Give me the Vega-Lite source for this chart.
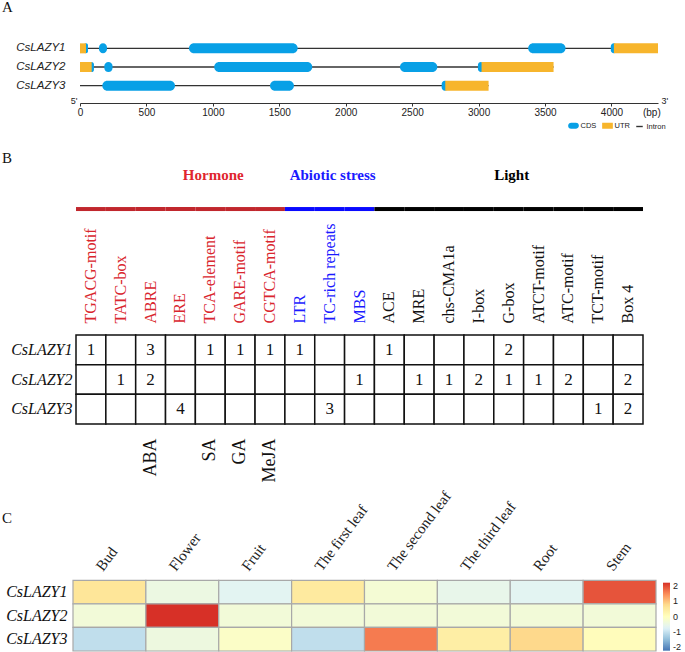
{
  "$schema": "https://vega.github.io/schema/vega-lite/v6.json",
  "background": "white",
  "padding": {"left": 2, "top": 0, "right": 0, "bottom": 0},
  "bounds": "flush",
  "spacing": 68,
  "config": {
    "view": {"stroke": null},
    "axis": {"grid": false},
    "title": {"font": "Liberation Serif", "fontSize": 15, "fontWeight": "normal", "anchor": "start", "frame": "group", "dx": -71, "color": "#111111", "baseline": "alphabetic"}
  },
  "resolve": {"scale": {"x": "independent", "y": "independent", "color": "independent", "fill": "independent"}},
  "datasets": {
    "introns": [
      {"gene": "CsLAZY1", "part": "Intron", "start": 0, "end": 4350},
      {"gene": "CsLAZY2", "part": "Intron", "start": 0, "end": 3564},
      {"gene": "CsLAZY3", "part": "Intron", "start": 0, "end": 3075}
    ],
    "parts": [
      {"gene": "CsLAZY1", "part": "CDS", "start": 30, "end": 60},
      {"gene": "CsLAZY1", "part": "CDS", "start": 143, "end": 203},
      {"gene": "CsLAZY1", "part": "CDS", "start": 820, "end": 1638},
      {"gene": "CsLAZY1", "part": "CDS", "start": 3373, "end": 3654},
      {"gene": "CsLAZY1", "part": "CDS", "start": 3995, "end": 4040},
      {"gene": "CsLAZY1", "part": "UTR", "start": 0, "end": 45},
      {"gene": "CsLAZY1", "part": "UTR", "start": 4018, "end": 4350},
      {"gene": "CsLAZY2", "part": "CDS", "start": 70, "end": 105},
      {"gene": "CsLAZY2", "part": "CDS", "start": 183, "end": 245},
      {"gene": "CsLAZY2", "part": "CDS", "start": 1010, "end": 1748},
      {"gene": "CsLAZY2", "part": "CDS", "start": 2408, "end": 2689},
      {"gene": "CsLAZY2", "part": "CDS", "start": 2995, "end": 3040},
      {"gene": "CsLAZY2", "part": "UTR", "start": 0, "end": 88},
      {"gene": "CsLAZY2", "part": "UTR", "start": 3022, "end": 3564},
      {"gene": "CsLAZY3", "part": "CDS", "start": 168, "end": 715},
      {"gene": "CsLAZY3", "part": "CDS", "start": 1430, "end": 1610},
      {"gene": "CsLAZY3", "part": "CDS", "start": 2722, "end": 2770},
      {"gene": "CsLAZY3", "part": "UTR", "start": 2749, "end": 3075}
    ],
    "motifs": [
      {"motif": "TGACG-motif", "category": "Hormone"},
      {"motif": "TATC-box", "category": "Hormone"},
      {"motif": "ABRE", "category": "Hormone"},
      {"motif": "ERE", "category": "Hormone"},
      {"motif": "TCA-element", "category": "Hormone"},
      {"motif": "GARE-motif", "category": "Hormone"},
      {"motif": "CGTCA-motif", "category": "Hormone"},
      {"motif": "LTR", "category": "Abiotic stress"},
      {"motif": "TC-rich repeats", "category": "Abiotic stress"},
      {"motif": "MBS", "category": "Abiotic stress"},
      {"motif": "ACE", "category": "Light"},
      {"motif": "MRE", "category": "Light"},
      {"motif": "chs-CMA1a", "category": "Light"},
      {"motif": "I-box", "category": "Light"},
      {"motif": "G-box", "category": "Light"},
      {"motif": "ATCT-motif", "category": "Light"},
      {"motif": "ATC-motif", "category": "Light"},
      {"motif": "TCT-motif", "category": "Light"},
      {"motif": "Box 4", "category": "Light"}
    ],
    "groups": [
      {"label": "Hormone", "anchor": "TCA-element"},
      {"label": "Abiotic stress", "anchor": "TC-rich repeats"},
      {"label": "Light", "anchor": "G-box"}
    ],
    "cells": [
      {"gene": "CsLAZY1", "motif": "TGACG-motif", "count": 1},
      {"gene": "CsLAZY1", "motif": "TATC-box", "count": null},
      {"gene": "CsLAZY1", "motif": "ABRE", "count": 3},
      {"gene": "CsLAZY1", "motif": "ERE", "count": null},
      {"gene": "CsLAZY1", "motif": "TCA-element", "count": 1},
      {"gene": "CsLAZY1", "motif": "GARE-motif", "count": 1},
      {"gene": "CsLAZY1", "motif": "CGTCA-motif", "count": 1},
      {"gene": "CsLAZY1", "motif": "LTR", "count": 1},
      {"gene": "CsLAZY1", "motif": "TC-rich repeats", "count": null},
      {"gene": "CsLAZY1", "motif": "MBS", "count": null},
      {"gene": "CsLAZY1", "motif": "ACE", "count": 1},
      {"gene": "CsLAZY1", "motif": "MRE", "count": null},
      {"gene": "CsLAZY1", "motif": "chs-CMA1a", "count": null},
      {"gene": "CsLAZY1", "motif": "I-box", "count": null},
      {"gene": "CsLAZY1", "motif": "G-box", "count": 2},
      {"gene": "CsLAZY1", "motif": "ATCT-motif", "count": null},
      {"gene": "CsLAZY1", "motif": "ATC-motif", "count": null},
      {"gene": "CsLAZY1", "motif": "TCT-motif", "count": null},
      {"gene": "CsLAZY1", "motif": "Box 4", "count": null},
      {"gene": "CsLAZY2", "motif": "TGACG-motif", "count": null},
      {"gene": "CsLAZY2", "motif": "TATC-box", "count": 1},
      {"gene": "CsLAZY2", "motif": "ABRE", "count": 2},
      {"gene": "CsLAZY2", "motif": "ERE", "count": null},
      {"gene": "CsLAZY2", "motif": "TCA-element", "count": null},
      {"gene": "CsLAZY2", "motif": "GARE-motif", "count": null},
      {"gene": "CsLAZY2", "motif": "CGTCA-motif", "count": null},
      {"gene": "CsLAZY2", "motif": "LTR", "count": null},
      {"gene": "CsLAZY2", "motif": "TC-rich repeats", "count": null},
      {"gene": "CsLAZY2", "motif": "MBS", "count": 1},
      {"gene": "CsLAZY2", "motif": "ACE", "count": null},
      {"gene": "CsLAZY2", "motif": "MRE", "count": 1},
      {"gene": "CsLAZY2", "motif": "chs-CMA1a", "count": 1},
      {"gene": "CsLAZY2", "motif": "I-box", "count": 2},
      {"gene": "CsLAZY2", "motif": "G-box", "count": 1},
      {"gene": "CsLAZY2", "motif": "ATCT-motif", "count": 1},
      {"gene": "CsLAZY2", "motif": "ATC-motif", "count": 2},
      {"gene": "CsLAZY2", "motif": "TCT-motif", "count": null},
      {"gene": "CsLAZY2", "motif": "Box 4", "count": 2},
      {"gene": "CsLAZY3", "motif": "TGACG-motif", "count": null},
      {"gene": "CsLAZY3", "motif": "TATC-box", "count": null},
      {"gene": "CsLAZY3", "motif": "ABRE", "count": null},
      {"gene": "CsLAZY3", "motif": "ERE", "count": 4},
      {"gene": "CsLAZY3", "motif": "TCA-element", "count": null},
      {"gene": "CsLAZY3", "motif": "GARE-motif", "count": null},
      {"gene": "CsLAZY3", "motif": "CGTCA-motif", "count": null},
      {"gene": "CsLAZY3", "motif": "LTR", "count": null},
      {"gene": "CsLAZY3", "motif": "TC-rich repeats", "count": 3},
      {"gene": "CsLAZY3", "motif": "MBS", "count": null},
      {"gene": "CsLAZY3", "motif": "ACE", "count": null},
      {"gene": "CsLAZY3", "motif": "MRE", "count": null},
      {"gene": "CsLAZY3", "motif": "chs-CMA1a", "count": null},
      {"gene": "CsLAZY3", "motif": "I-box", "count": null},
      {"gene": "CsLAZY3", "motif": "G-box", "count": null},
      {"gene": "CsLAZY3", "motif": "ATCT-motif", "count": null},
      {"gene": "CsLAZY3", "motif": "ATC-motif", "count": null},
      {"gene": "CsLAZY3", "motif": "TCT-motif", "count": 1},
      {"gene": "CsLAZY3", "motif": "Box 4", "count": 2}
    ],
    "expr": [
      {"gene": "CsLAZY1", "tissue": "Bud", "value": 0.6},
      {"gene": "CsLAZY1", "tissue": "Flower", "value": -0.45},
      {"gene": "CsLAZY1", "tissue": "Fruit", "value": -0.66},
      {"gene": "CsLAZY1", "tissue": "The first leaf", "value": 0.5},
      {"gene": "CsLAZY1", "tissue": "The second leaf", "value": -0.27},
      {"gene": "CsLAZY1", "tissue": "The third leaf", "value": -0.56},
      {"gene": "CsLAZY1", "tissue": "Root", "value": -0.66},
      {"gene": "CsLAZY1", "tissue": "Stem", "value": 1.93},
      {"gene": "CsLAZY2", "tissue": "Bud", "value": -0.32},
      {"gene": "CsLAZY2", "tissue": "Flower", "value": 2.3},
      {"gene": "CsLAZY2", "tissue": "Fruit", "value": -0.32},
      {"gene": "CsLAZY2", "tissue": "The first leaf", "value": -0.32},
      {"gene": "CsLAZY2", "tissue": "The second leaf", "value": -0.32},
      {"gene": "CsLAZY2", "tissue": "The third leaf", "value": -0.32},
      {"gene": "CsLAZY2", "tissue": "Root", "value": -0.32},
      {"gene": "CsLAZY2", "tissue": "Stem", "value": -0.32},
      {"gene": "CsLAZY3", "tissue": "Bud", "value": -1.04},
      {"gene": "CsLAZY3", "tissue": "Flower", "value": -0.42},
      {"gene": "CsLAZY3", "tissue": "Fruit", "value": -0.1},
      {"gene": "CsLAZY3", "tissue": "The first leaf", "value": -1.04},
      {"gene": "CsLAZY3", "tissue": "The second leaf", "value": 1.62},
      {"gene": "CsLAZY3", "tissue": "The third leaf", "value": 0.41},
      {"gene": "CsLAZY3", "tissue": "Root", "value": 0.8},
      {"gene": "CsLAZY3", "tissue": "Stem", "value": 0.06}
    ]
  },
  "vconcat": [
    {
      "width": 585,
      "height": 72,
      "title": {"text": "A", "offset": 16},
      "resolve": {"axis": {"x": "independent"}},
      "layer": [
        {
          "data": {"name": "introns"},
          "mark": {"type": "rule", "strokeWidth": 1.3},
          "encoding": {
            "x": {"field": "start", "type": "quantitative",
              "scale": {"domain": [0, 4350], "range": [7, 585], "nice": false, "zero": false},
              "axis": {"orient": "bottom", "values": [0, 500, 1000, 1500, 2000, 2500, 3000, 3500, 4000, 4300], "format": "d",
                "labelExpr": "datum.value == 4300 ? '(bp)' : datum.label",
                "tickOpacity": {"condition": {"test": "datum.value == 4300", "value": 0}, "value": 1},
                "tickSize": 3, "tickColor": "#333333", "domainColor": "#333333", "domainWidth": 1.2,
                "labelFont": "Liberation Sans", "labelFontSize": 10, "labelColor": "#222222", "labelPadding": 1,
                "labelFlush": false, "labelOverlap": false, "title": null, "grid": false}},
            "x2": {"field": "end"},
            "y": {"field": "gene", "type": "nominal",
              "scale": {"domain": ["CsLAZY1", "CsLAZY2", "CsLAZY3"], "paddingInner": 0, "paddingOuter": 0.43},
              "axis": {"title": null, "ticks": false, "tickSize": 0, "domain": false, "labelFont": "Liberation Sans", "labelFontStyle": "italic", "labelFontSize": 11.5, "labelColor": "#222222", "labelPadding": 8}},
            "color": {"field": "part", "type": "nominal",
              "scale": {"domain": ["CDS", "UTR", "Intron"], "range": ["#08a0e6", "#f7b52c", "#333333"]},
              "legend": {"orient": "none", "legendX": 495, "legendY": 89, "direction": "horizontal", "title": null,
                "labelFont": "Liberation Sans", "labelFontSize": 7.5, "labelColor": "#222222",
                "labelOffset": 1.5, "columnPadding": 3, "symbolSize": 86, "padding": 0,
                "encode": {"symbols": {"update": {
                  "shape": {"signal": "datum.value === 'CDS' ? 'M-0.5,-0.5H0.5A0.5,0.5 0 0 1 0.5,0.5H-0.5A0.5,0.5 0 0 1 -0.5,-0.5Z' : datum.value === 'UTR' ? 'M-1,-0.5H1V0.5H-1Z' : 'M-0.7,0H0.7'"},
                  "fill": {"signal": "datum.value === 'CDS' ? '#08a0e6' : datum.value === 'UTR' ? '#f7b52c' : 'transparent'"},
                  "stroke": {"signal": "datum.value === 'Intron' ? '#333333' : 'transparent'"},
                  "strokeWidth": {"value": 1.4},
                  "opacity": {"value": 1}
                }}}}}
          }
        },
        {
          "data": {"name": "parts"},
          "transform": [{"filter": "datum.part == 'CDS'"}],
          "mark": {"type": "bar", "height": 10, "cornerRadius": 5},
          "encoding": {
            "x": {"field": "start", "type": "quantitative",
              "axis": {"orient": "bottom", "values": [0, 4350], "labelExpr": "datum.value < 1 ? \"5'\" : \"3'\"",
                "ticks": false, "tickSize": 0, "domain": false, "labelPadding": -3, "labelBaseline": "middle",
                "labelAlign": {"condition": {"test": "datum.value < 1", "value": "right"}, "value": "left"},
                "labelOffset": {"condition": {"test": "datum.value < 1", "value": -3}, "value": 3},
                "labelFont": "Liberation Sans", "labelFontSize": 9, "labelColor": "#222222",
                "labelFlush": false, "labelOverlap": false, "title": null, "grid": false}},
            "x2": {"field": "end"},
            "y": {"field": "gene", "type": "nominal"},
            "color": {"field": "part", "type": "nominal"}
          }
        },
        {
          "data": {"name": "parts"},
          "transform": [{"filter": "datum.part == 'UTR'"}],
          "mark": {"type": "bar", "height": 10},
          "encoding": {
            "x": {"field": "start", "type": "quantitative", "axis": null},
            "x2": {"field": "end"},
            "y": {"field": "gene", "type": "nominal"},
            "color": {"field": "part", "type": "nominal"}
          }
        }
      ]
    },
    {
      "width": 570,
      "height": 96,
      "title": {"text": "B", "offset": 2},
      "resolve": {"scale": {"color": "independent"}},
      "layer": [
        {
          "data": {"name": "motifs"},
          "mark": {"type": "rect", "height": 4},
          "encoding": {
            "x": {"field": "motif", "type": "nominal",
              "scale": {"domain": ["TGACG-motif", "TATC-box", "ABRE", "ERE", "TCA-element", "GARE-motif", "CGTCA-motif", "LTR", "TC-rich repeats", "MBS", "ACE", "MRE", "chs-CMA1a", "I-box", "G-box", "ATCT-motif", "ATC-motif", "TCT-motif", "Box 4"], "range": [3, 570], "paddingInner": 0, "paddingOuter": 0},
              "axis": null},
            "y": {"datum": "bar", "type": "nominal", "scale": {"type": "point", "domain": ["name", "bar"], "padding": 0.91, "align": 0.0645}, "axis": null},
            "color": {"field": "category", "type": "nominal",
              "scale": {"domain": ["Hormone", "Abiotic stress", "Light"], "range": ["#c1272d", "#0a0aff", "#000000"]}, "legend": null}
          }
        },
        {
          "data": {"name": "groups"},
          "mark": {"type": "text", "font": "Liberation Serif", "fontSize": 15, "fontWeight": "bold", "baseline": "middle"},
          "encoding": {
            "x": {"field": "anchor", "type": "nominal", "bandPosition": 0.6},
            "y": {"datum": "name", "type": "nominal"},
            "text": {"field": "label"},
            "color": {"field": "label", "type": "nominal",
              "scale": {"domain": ["Hormone", "Abiotic stress", "Light"], "range": ["#e0252e", "#1a1aff", "#000000"]}, "legend": null}
          }
        }
      ]
    },
    {
      "width": 570,
      "height": 139,
      "resolve": {"axis": {"x": "independent"}},
      "layer": [
        {
          "data": {"name": "cells"},
          "mark": {"type": "rect", "fill": "white", "stroke": "#111111", "strokeWidth": 1.5},
          "encoding": {
            "x": {"field": "motif", "type": "nominal",
              "scale": {"domain": ["TGACG-motif", "TATC-box", "ABRE", "ERE", "TCA-element", "GARE-motif", "CGTCA-motif", "LTR", "TC-rich repeats", "MBS", "ACE", "MRE", "chs-CMA1a", "I-box", "G-box", "ATCT-motif", "ATC-motif", "TCT-motif", "Box 4"], "range": [3, 570], "paddingInner": 0, "paddingOuter": 0},
              "axis": {"orient": "top", "title": null, "ticks": false, "tickSize": 0, "domain": false, "labelAngle": -90, "labelAlign": "left", "labelBaseline": "middle", "labelPadding": 12,
                "labelFont": "Liberation Serif", "labelFontSize": 16, "labelLimit": 0,
                "labelColor": {"condition": [
                  {"test": "indexof(['TGACG-motif','TATC-box','ABRE','ERE','TCA-element','GARE-motif','CGTCA-motif'], datum.value) >= 0", "value": "#d9262e"},
                  {"test": "indexof(['LTR','TC-rich repeats','MBS'], datum.value) >= 0", "value": "#1a1aff"}], "value": "#111111"}}},
            "y": {"field": "gene", "type": "nominal",
              "scale": {"domain": ["CsLAZY1", "CsLAZY2", "CsLAZY3"], "paddingInner": 0, "paddingOuter": 0.8425, "align": 0},
              "axis": {"title": null, "ticks": false, "tickSize": 0, "domain": false, "labelFont": "Liberation Serif", "labelFontStyle": "italic", "labelFontSize": 16, "labelColor": "#111111", "labelPadding": 1}}
          }
        },
        {
          "data": {"name": "cells"},
          "transform": [{"filter": "isValid(datum.count)"}],
          "mark": {"type": "text", "font": "Liberation Serif", "fontSize": 17, "color": "#111111"},
          "encoding": {
            "x": {"field": "motif", "type": "nominal",
              "axis": {"orient": "bottom", "offset": -50, "title": null, "ticks": false, "tickSize": 0, "domain": false, "labelAngle": -90, "labelAlign": "right", "labelBaseline": "middle", "labelPadding": 14,
                "labelFont": "Liberation Serif", "labelFontSize": 18, "labelColor": "#111111", "labelLimit": 0,
                "labelExpr": "datum.value == 'ABRE' ? 'ABA' : datum.value == 'TCA-element' ? 'SA' : datum.value == 'GARE-motif' ? 'GA' : datum.value == 'CGTCA-motif' ? 'MeJA' : ''"}},
            "y": {"field": "gene", "type": "nominal"},
            "text": {"field": "count", "type": "quantitative"}
          }
        }
      ]
    },
    {
      "width": 583,
      "height": 109,
      "title": {"text": "C", "offset": -38},
      "data": {"name": "expr"},
      "mark": {"type": "rect", "stroke": "#a8a8a8", "strokeWidth": 1.2},
      "encoding": {
        "x": {"field": "tissue", "type": "nominal",
          "scale": {"domain": ["Bud", "Flower", "Fruit", "The first leaf", "The second leaf", "The third leaf", "Root", "Stem"], "paddingInner": 0, "paddingOuter": 0},
          "axis": {"orient": "top", "offset": -38.3, "title": null, "ticks": false, "tickSize": 0, "domain": false, "labelAngle": -53, "labelAlign": "left", "labelBaseline": "bottom", "labelOffset": -4, "labelPadding": 7,
            "labelFont": "Liberation Serif", "labelFontSize": 15, "labelColor": "#222222", "labelLimit": 0}},
        "y": {"field": "gene", "type": "nominal",
          "scale": {"domain": ["CsLAZY1", "CsLAZY2", "CsLAZY3"], "paddingInner": 0, "paddingOuter": 0.8125, "align": 1},
          "axis": {"title": null, "ticks": false, "tickSize": 0, "domain": false, "labelFont": "Liberation Serif", "labelFontStyle": "italic", "labelFontSize": 16, "labelColor": "#111111", "labelPadding": 6}},
        "color": {"field": "value", "type": "quantitative",
          "scale": {"domain": [-2.22, -1.48, -0.74, 0, 0.74, 1.48, 2.22], "range": ["#4575b4", "#91bfdb", "#e0f3f8", "#ffffbf", "#fee090", "#fc8d59", "#d73027"], "clamp": true, "interpolate": "rgb"},
          "legend": {"orient": "none", "legendX": 590, "legendY": 40.7, "direction": "vertical", "title": null, "gradientLength": 68, "gradientThickness": 7, "gradientStrokeWidth": 0,
            "values": [-2, -1, 0, 1, 2], "labelExpr": "datum.value < 0 ? '-' + abs(datum.value) : '' + datum.value",
            "labelFont": "Liberation Sans", "labelFontSize": 9, "labelColor": "#222222", "labelOffset": 3, "labelOverlap": false, "padding": 0}}
      }
    }
  ]
}
